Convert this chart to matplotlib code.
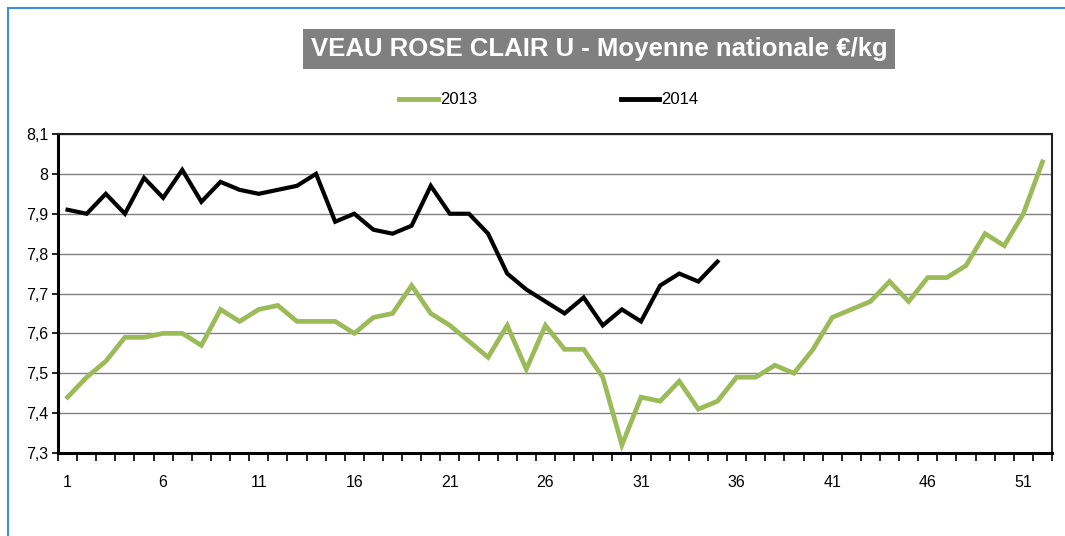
import matplotlib
matplotlib.use("Agg")
import matplotlib.pyplot as plt
from matplotlib.patches import Rectangle
from matplotlib.ticker import FixedLocator, FuncFormatter

weeks = list(range(1, 53))
values_2013 = [7.44, 7.49, 7.53, 7.59, 7.59, 7.60, 7.60, 7.57, 7.66, 7.63,
               7.66, 7.67, 7.63, 7.63, 7.63, 7.60, 7.64, 7.65, 7.72, 7.65,
               7.62, 7.58, 7.54, 7.62, 7.51, 7.62, 7.56, 7.56, 7.49, 7.32,
               7.44, 7.43, 7.48, 7.41, 7.43, 7.49, 7.49, 7.52, 7.50, 7.56,
               7.64, 7.66, 7.68, 7.73, 7.68, 7.74, 7.74, 7.77, 7.85, 7.82,
               7.90, 8.03]
values_2014 = [7.91, 7.90, 7.95, 7.90, 7.99, 7.94, 8.01, 7.93, 7.98, 7.96,
               7.95, 7.96, 7.97, 8.00, 7.88, 7.90, 7.86, 7.85, 7.87, 7.97,
               7.90, 7.90, 7.85, 7.75, 7.71, 7.68, 7.65, 7.69, 7.62, 7.66,
               7.63, 7.72, 7.75, 7.73, 7.78]
y_ticks = [7.3, 7.4, 7.5, 7.6, 7.7, 7.8, 7.9, 8.0, 8.1]
x_tick_labels = [1, 6, 11, 16, 21, 26, 31, 36, 41, 46, 51]
title = "VEAU ROSE CLAIR U - Moyenne nationale €/kg"

plt.rcParams['font.family'] = ['Liberation Sans', 'DejaVu Sans']

fig = plt.figure(figsize=(10.65, 5.36), dpi=100)
fig.patch.set_facecolor('white')

# outer blue frame
fig.patches.append(Rectangle((8 / 1065, -0.2), 1.2, 1.2 - 8 / 536,
                             transform=fig.transFigure, fill=False,
                             edgecolor='#3d8fdc', linewidth=1.5))

ax = fig.add_axes([58 / 1065, (536 - 453) / 536, (1052 - 58) / 1065, (453 - 134) / 536])

ax.plot(weeks, values_2013, color='#9bbb59', linewidth=3.4, label='2013',
        solid_joinstyle='miter')
ax.plot(weeks[:len(values_2014)], values_2014, color='black', linewidth=3.0,
        label='2014', solid_joinstyle='miter')

ax.set_xlim(0.5, 52.5)
ax.set_ylim(7.3, 8.1)
ax.set_yticks(y_ticks)
ax.yaxis.set_major_formatter(FuncFormatter(
    lambda v, p: ('%g' % round(v, 1)).replace('.', ',')))
ax.grid(axis='y', color='#808080', linewidth=1.0)
ax.set_axisbelow(True)

ax.xaxis.set_major_locator(FixedLocator(x_tick_labels))
ax.xaxis.set_minor_locator(FixedLocator([w + 0.5 for w in range(0, 53)]))
ax.tick_params(axis='x', which='major', length=0, pad=16, labelsize=11.5)
ax.tick_params(axis='x', which='minor', length=6, width=1.2, direction='out')
ax.tick_params(axis='y', which='major', length=4, width=1.2, labelsize=11.5, pad=3)

for side in ['left', 'bottom']:
    ax.spines[side].set_linewidth(2.2)
    ax.spines[side].set_color('black')
for side in ['top', 'right']:
    ax.spines[side].set_linewidth(1.5)
    ax.spines[side].set_color('#222222')

fig.text(599 / 1065, 1 - 49 / 536, title, ha='center', va='center',
         color='white', fontsize=18.5, fontweight='bold',
         bbox=dict(boxstyle='square,pad=0.3', facecolor='#808080', edgecolor='none'))

leg = fig.legend(loc='center', bbox_to_anchor=(549 / 1065, 1 - 100 / 536), ncol=2,
                 frameon=False, fontsize=12, handlelength=2.3, handletextpad=0.15,
                 columnspacing=8.6)
for line in leg.get_lines():
    line.set_linewidth(3.5)

fig.savefig('out.png', dpi=100)
